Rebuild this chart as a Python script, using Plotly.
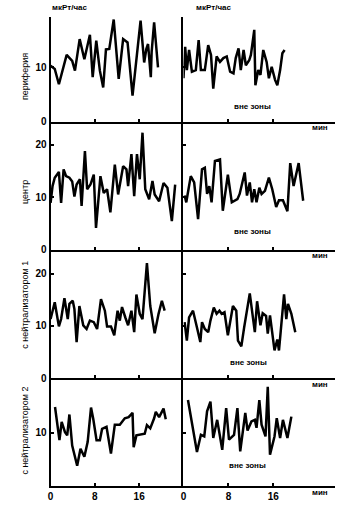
import plotly.graph_objects as go

W, H = 357, 517

# ---- data (minutes, мкРт/час) ----
t_periph_in = [0, 0.4, 0.75, 1.5, 2.9, 3.9, 4.4, 5.25, 6.1, 7.1, 7.6, 8.25, 8.9, 9.5, 10, 10.6, 11.4, 12.3, 13.1, 13.9, 14.8, 16.25, 16.9, 17.3, 17.6, 18.1, 18.25, 18.7, 19.4]
v_periph_in = [10.3, 10, 9.7, 6.9, 12.3, 11.2, 9.4, 15.2, 11.5, 16, 8.2, 14.9, 9.4, 6.3, 13.3, 13.4, 18.8, 7.9, 15.2, 14.6, 4.8, 18.6, 10.9, 13.4, 14.3, 8.2, 12.8, 18.3, 10]
t_periph_out = [0, 0.3, 0.6, 1, 1.5, 2.2, 2.7, 3.1, 3.8, 4.4, 4.9, 5.3, 5.9, 6.5, 7.1, 7.7, 8.3, 8.9, 9.3, 9.8, 10.2, 10.7, 11.1, 11.7, 12, 12.6, 12.8, 13.3, 13.7, 14.2, 14.8, 15.2, 15.7, 16.3, 16.7, 17.2, 17.6, 18]
v_periph_out = [8, 13.8, 9.5, 13.2, 9.2, 9.5, 15, 9.5, 9.5, 14.1, 12.3, 6.1, 12, 11, 11.7, 12, 9.2, 8.9, 11.7, 13.5, 9.5, 13.2, 10.4, 11.3, 12.3, 16.9, 6.7, 9.5, 8.6, 13.2, 11, 8, 10.1, 7.7, 6.7, 9.5, 12.6, 13.2]

t_center_in = [0, 0.35, 0.75, 1.5, 1.9, 2.35, 2.8, 3.4, 3.9, 4.3, 4.7, 5.3, 5.6, 6.2, 6.6, 7.2, 7.8, 8.2, 9, 9.6, 10.2, 10.8, 11.6, 12.2, 13.1, 13.7, 14, 14.6, 15.1, 15.6, 16.1, 16.6, 17.1, 17.8, 18.4, 18.8, 19.6, 20.4, 21.1, 21.9, 22.5]
v_center_in = [8.9, 12.1, 13.7, 14.8, 8.9, 15.3, 14, 13.7, 13, 10.1, 12.4, 13.4, 8.3, 18.8, 11.5, 12.4, 14.3, 4.1, 14, 10.8, 11.5, 7.1, 16.2, 10.5, 15.9, 15.3, 12.1, 18.2, 10.2, 18.2, 13.4, 22.3, 11.5, 9.6, 13.1, 10.5, 9.2, 12.7, 11.8, 5.4, 12.4]
t_center_out = [0.2, 0.5, 0.75, 1.3, 1.9, 2.6, 3.3, 3.8, 4.2, 4.6, 5, 5.6, 6.5, 7, 7.9, 8.6, 9.6, 10, 10.9, 11.3, 11.8, 12.2, 12.6, 13, 13.5, 13.9, 14.5, 15.2, 15.8, 16.5, 17, 17.7, 18.5, 19, 19.6, 20.5, 21.3]
v_center_out = [10.3, 9, 10.6, 14, 12.8, 5.8, 15.3, 15.6, 10.6, 12.1, 9, 16.9, 17.2, 7.4, 14.3, 9, 9.6, 10.6, 14.7, 10.3, 12.8, 9, 11.5, 9, 11.8, 10.6, 11.2, 13.7, 11.5, 8.1, 9.4, 9.4, 7.3, 16.5, 12.1, 16.5, 9.3]

t_neut1_in = [0, 0.35, 0.75, 1.5, 1.9, 2.5, 3.1, 3.4, 4, 4.3, 4.7, 5.2, 5.9, 6.5, 7.1, 7.8, 8.4, 9.1, 9.8, 10.2, 10.9, 11.5, 12.1, 12.5, 12.9, 13.5, 14, 14.6, 15.1, 15.5, 16.1, 16.6, 17.4, 18, 18.8, 19.5, 20.1, 20.6]
v_neut1_in = [11.3, 12.6, 14.5, 9.9, 11.3, 15.3, 11.3, 14.2, 14.8, 13.2, 6.9, 13.8, 10.1, 9.4, 11, 10.7, 9.4, 15.1, 12.9, 9.9, 9.9, 8.2, 12.9, 11, 13.6, 11.6, 10.1, 12.9, 8.8, 16, 12.3, 11.3, 22, 13.8, 8.6, 12.3, 14.8, 12.9]
t_neut1_out = [0.2, 0.6, 1, 1.7, 2.4, 3, 3.3, 3.8, 4.4, 4.8, 5.4, 5.9, 6.4, 6.8, 7.3, 7.9, 8.8, 9.4, 9.7, 10.3, 10.8, 11.8, 12.7, 13.1, 13.7, 14.1, 14.7, 15, 15.4, 16.2, 16.7, 17, 17.9, 18.3, 18.6, 19.2, 19.9]
v_neut1_out = [10.7, 7.2, 11.6, 12.9, 9.7, 6.9, 10.7, 9.4, 8.8, 11, 13.5, 12.3, 12.9, 12.3, 12.6, 8.2, 13.8, 12.9, 7.2, 6.1, 9.7, 16.2, 8.8, 14.7, 10.1, 12.4, 11.9, 8.5, 12, 5.3, 7.4, 5.3, 16, 11.3, 14.2, 12.3, 8.8]

t_neut2_in = [0.8, 1.6, 2, 2.6, 3, 3.4, 3.9, 4.8, 5.4, 6.1, 6.7, 7.3, 7.7, 8.3, 8.9, 9.3, 10.1, 10.9, 11.6, 12.5, 13.4, 14.1, 14.8, 15, 15.5, 17, 17.4, 18, 18.7, 19, 19.6, 20.4, 20.8]
v_neut2_in = [14.8, 8.6, 12, 10.1, 9.5, 13.4, 7.6, 3.8, 7, 5.5, 8.3, 14.7, 12.6, 8.6, 8.6, 10.7, 11.1, 6.1, 11.5, 11.5, 12.7, 12.9, 13.7, 7.3, 9.5, 9.8, 11.4, 10.8, 12.7, 13.9, 12.9, 14.5, 12.5]
t_neut2_out = [0.8, 2.4, 3.1, 3.7, 4.2, 4.8, 5.3, 6, 6.9, 7.6, 8.1, 9, 9.6, 10.1, 11, 11.4, 12.1, 12.7, 13, 13.5, 13.9, 14.6, 15, 15.4, 16.2, 16.6, 17.2, 17.7, 18.5, 19.2]
v_neut2_out = [16.1, 6.4, 9.6, 9.3, 14, 15.8, 9, 12.4, 6.8, 14.6, 8.7, 9.6, 14.6, 6.5, 13.7, 10.4, 12.1, 12.4, 10.9, 16.1, 11.5, 9.3, 18.6, 5.9, 9.3, 12.7, 9, 12.4, 9, 13]

row_titles = ["периферия", "центр", "с нейтрализатором 1", "с нейтрализатором 2"]
unit_label = "мкРт/час"
zone_label = "вне зоны"
time_label = "мин"
x_ticks = [0, 8, 16]

panels = [
    (t_periph_in, v_periph_in, t_periph_out, v_periph_out),
    (t_center_in, v_center_in, t_center_out, v_center_out),
    (t_neut1_in, v_neut1_in, t_neut1_out, v_neut1_out),
    (t_neut2_in, v_neut2_in, t_neut2_out, v_neut2_out),
]

# ---- geometry (pixels) ----
XL0, XMID, XR1 = 48, 182, 335
rows_px = [(17, 123), (125, 252), (254, 382), (384, 491)]
title_cy = [77, 194, 308, 435]
zone_xy = [(252, 108), (252, 234), (248, 366), (247, 470)]
y_max = [19.3, 24, 24.2, 19.8]
y_ticks = [[0, 10], [0, 10, 20], [0, 10, 20], [10]]
x_max_left, x_max_right = 24, 27

def px(x):
    return x / W

def py(y):
    return 1 - y / H

FAM = "Liberation Sans, Arial, sans-serif"
FONT = dict(family=FAM, size=10, color="black")
TICKFONT = dict(family=FAM, size=10, color="black", weight="bold")

fig = go.Figure()
layout = dict(
    width=W, height=H, margin=dict(l=0, r=0, t=0, b=0),
    paper_bgcolor="white", plot_bgcolor="white",
    showlegend=False, font=FONT, hovermode=False,
)
annotations = []

def note(x, y, text, size, angle=0, weight="bold", xanchor="center"):
    annotations.append(dict(
        x=px(x), y=py(y), xref="paper", yref="paper", text=text,
        textangle=angle, showarrow=False, xanchor=xanchor, yanchor="middle",
        font=dict(family=FAM, size=size, color="black", weight=weight)))

idx = 0
for r, (ti, vi, to, vo) in enumerate(panels):
    top, bot = rows_px[r]
    last = r == len(panels) - 1
    for c in range(2):
        idx += 1
        xs = "" if idx == 1 else str(idx)
        t, v = (ti, vi) if c == 0 else (to, vo)
        fig.add_trace(go.Scatter(
            x=t, y=v, mode="lines", xaxis="x" + xs, yaxis="y" + xs,
            line=dict(color="black", width=2.5), hoverinfo="skip", cliponaxis=False))
        dom_x = [px(XL0), px(XMID)] if c == 0 else [px(XMID), px(XR1)]
        layout["xaxis" + xs] = dict(
            domain=dom_x, anchor="y" + xs,
            range=[0, x_max_left if c == 0 else x_max_right],
            showgrid=False, zeroline=False, showline=True,
            linecolor="black", linewidth=2,
            ticks="inside", ticklen=3, tickwidth=2, tickcolor="black",
            tickvals=x_ticks if last else x_ticks[1:],
            ticktext=[str(v) for v in (x_ticks if last else x_ticks[1:])],
            showticklabels=last, tickfont=TICKFONT, fixedrange=True,
        )
        tv = y_ticks[r] if c == 0 else [t_ for t_ in y_ticks[r] if t_ > 0]
        layout["yaxis" + xs] = dict(
            domain=[py(bot), py(top)], anchor="x" + xs,
            range=[-0.02, y_max[r]],
            showgrid=False, zeroline=False, showline=True,
            linecolor="black", linewidth=2,
            ticks="inside", ticklen=3, tickwidth=2, tickcolor="black",
            tickvals=tv, ticktext=[str(v) for v in tv],
            showticklabels=(c == 0), tickfont=TICKFONT, fixedrange=True,
        )
    note(22, title_cy[r], row_titles[r], 9, angle=-90, weight="normal")
    note(zone_xy[r][0], zone_xy[r][1], zone_label, 8)
    note(320, bot + 6, time_label, 8)

note(47, 8, unit_label, 8, xanchor="left")
note(193, 8, unit_label, 8, xanchor="left")

layout["annotations"] = annotations
fig.update_layout(**layout)
fig.write_html("out.html", config={"displayModeBar": False},
               post_script="document.body.style.margin='0';")
